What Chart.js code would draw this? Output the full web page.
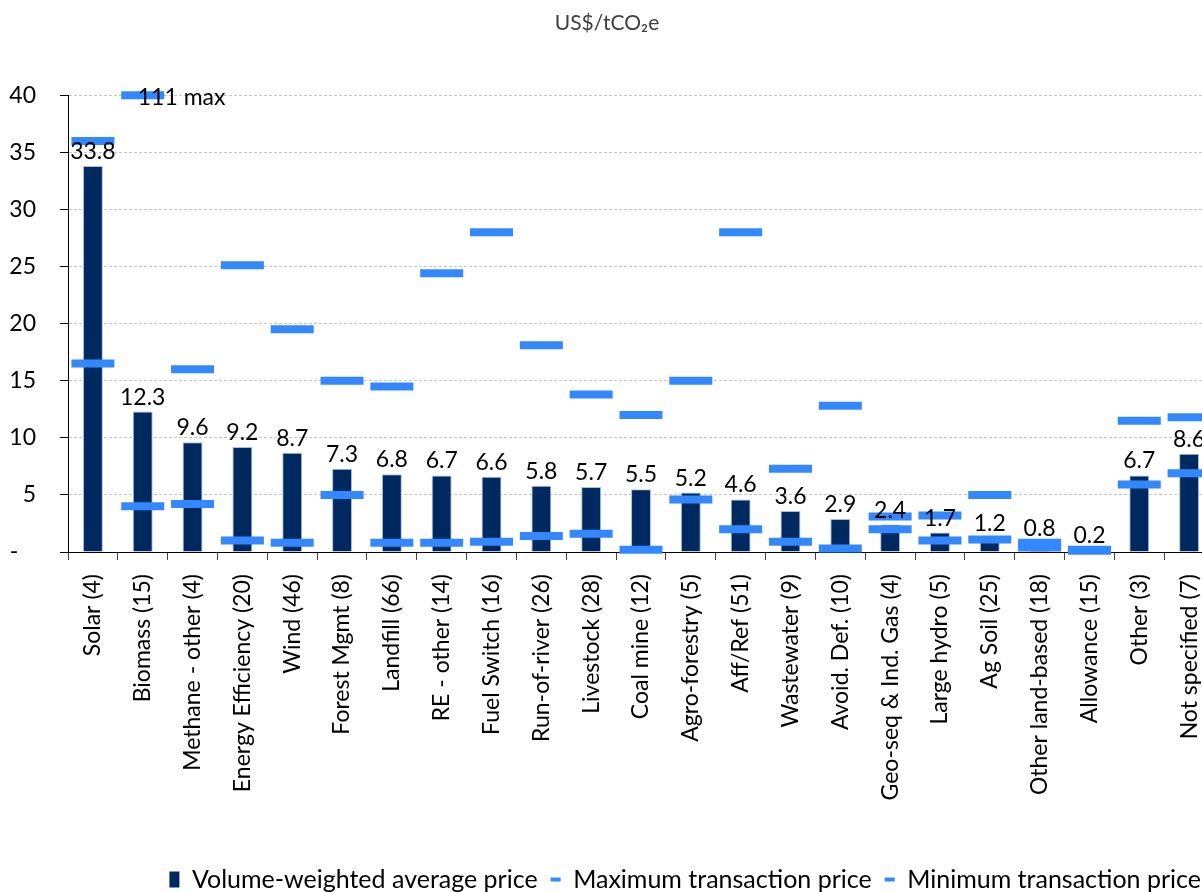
<!DOCTYPE html>
<html>
<head>
<meta charset="utf-8">
<script src="https://cdn.jsdelivr.net/npm/chart.js@4"></script>
<style>
  body { margin: 0; background: #fff; overflow: hidden; }
  #wrap { width: 1214px; height: 892px; position: relative; }
</style>
</head>
<body>
<div id="wrap"><canvas id="price_chart"></canvas></div>
<script>
// categories (number of transactions in brackets)
const categories = [
    'Solar (4)', 'Biomass (15)', 'Methane - other (4)', 'Energy Efficiency (20)', 'Wind (46)',
    'Forest Mgmt (8)', 'Landfill (66)', 'RE - other (14)', 'Fuel Switch (16)', 'Run-of-river (26)',
    'Livestock (28)', 'Coal mine (12)', 'Agro-forestry (5)', 'Aff/Ref (51)', 'Wastewater (9)',
    'Avoid. Def. (10)', 'Geo-seq & Ind. Gas (4)', 'Large hydro (5)', 'Ag Soil (25)',
    'Other land-based (18)', 'Allowance (15)', 'Other (3)', 'Not specified (7)'
]
const avgPrice = [33.8, 12.3, 9.6, 9.2, 8.7, 7.3, 6.8, 6.7, 6.6, 5.8, 5.7, 5.5, 5.2, 4.6, 3.6, 2.9, 2.4, 1.7, 1.2, 0.8, 0.2, 6.7, 8.6]
const maxPrice = [36.0, 111, 16.0, 25.1, 19.5, 15.0, 14.5, 24.4, 28.0, 18.1, 13.8, 12.0, 15.0, 28.0, 7.3, 12.8, 3.1, 3.2, 5.0, 0.8, 0.2, 11.5, 11.8]
const minPrice = [16.5, 4.0, 4.2, 1.0, 0.8, 5.0, 0.8, 0.8, 0.9, 1.4, 1.6, 0.2, 4.6, 2.0, 0.9, 0.3, 2.0, 1.0, 1.1, 0.4, 0.1, 5.9, 6.9]
const yTicks = [0, 5, 10, 15, 20, 25, 30, 35, 40]
const yMax = 40

const navy = '#002a5f'
const blue = '#3388ff'
const bottomPad = -10   // pushes the legend a little lower

Chart.defaults.font.family = 'Lato'
Chart.defaults.color = '#000'

// value labels above the bars, and the note for the clipped maximum
const labelPlugin = {
    id: 'valueLabels',
    afterDatasetsDraw(chart) {
        let ctx = chart.ctx
        ctx.save()
        ctx.font = '23px Lato'
        ctx.fillStyle = '#000'
        ctx.textAlign = 'center'
        ctx.textBaseline = 'alphabetic'
        chart.getDatasetMeta(0).data.forEach(function (bar, i) {
            ctx.fillText(avgPrice[i].toFixed(1), bar.x, bar.y - 7)
        })
        ctx.textAlign = 'left'
        chart.getDatasetMeta(1).data.forEach(function (pt, i) {
            if (maxPrice[i] > yMax) {
                ctx.fillText(maxPrice[i] + ' max', pt.x - 5, pt.y + 10)
            }
        })
        ctx.restore()
    }
}

let ctx = document.getElementById('price_chart')

var price_chart = new Chart(ctx, {
    type: 'bar',
    plugins: [labelPlugin],
    data: {
        labels: categories,
        datasets: [{
            label: 'Volume-weighted average price',
            data: avgPrice,
            backgroundColor: navy,
            borderColor: '#a8bde0',
            borderWidth: 1,
            barPercentage: 0.4,
            categoryPercentage: 1,
            order: 1
        }, {
            type: 'line',
            label: 'Maximum transaction price',
            data: maxPrice.map(v => Math.min(v, yMax)),
            showLine: false,
            borderColor: blue,
            backgroundColor: blue,
            pointStyle: 'line',
            pointRadius: 21.5,
            pointHoverRadius: 21.5,
            pointBorderWidth: 8,
            pointHoverBorderWidth: 8,
            pointBorderColor: blue,
            clip: false,
            order: 0
        }, {
            type: 'line',
            label: 'Minimum transaction price',
            data: minPrice,
            showLine: false,
            borderColor: blue,
            backgroundColor: blue,
            pointStyle: 'line',
            pointRadius: 21.5,
            pointHoverRadius: 21.5,
            pointBorderWidth: 8,
            pointHoverBorderWidth: 8,
            pointBorderColor: blue,
            clip: false,
            order: 0
        }]
    },
    options: {
        responsive: true,
        maintainAspectRatio: false,
        animation: false,
        layout: { padding: { top: 0, left: 0, right: 0, bottom: bottomPad }, autoPadding: false },
        plugins: {
            tooltip: { enabled: false },
            title: {
                display: true,
                text: 'US$/tCO₂e',
                color: '#404040',
                font: { size: 21, weight: 'normal' },
                padding: { top: 11, bottom: 59 }
            },
            legend: {
                position: 'bottom',
                align: 'end',
                labels: {
                    usePointStyle: true,
                    pointStyleWidth: 10,
                    boxHeight: 16,
                    padding: 13,
                    font: { size: 25 },
                    color: '#000',
                    generateLabels: function (chart) {
                        let items = Chart.defaults.plugins.legend.labels.generateLabels(chart)
                        items.sort((a, b) => a.datasetIndex - b.datasetIndex)
                        items.forEach(function (it) {
                            if (it.datasetIndex == 0) {
                                it.pointStyle = 'rect'
                                it.lineWidth = 0
                                it.fillStyle = navy
                            } else {
                                it.pointStyle = 'line'
                                it.lineWidth = 4
                                it.strokeStyle = blue
                            }
                        })
                        return items
                    }
                }
            }
        },
        scales: {
            x: {
                offset: true,
                grid: {
                    offset: true,
                    drawOnChartArea: false,
                    drawTicks: true,
                    tickLength: 8,
                    tickColor: '#444'
                },
                border: { display: true, color: '#000', width: 1 },
                ticks: {
                    autoSkip: false,
                    minRotation: 90,
                    maxRotation: 90,
                    padding: 14,
                    font: { size: 23 },
                    color: '#000'
                },
                afterFit: function (scale) {
                    scale.height = 892 - bottomPad - 552 - scale.chart.legend.height
                    scale.paddingRight = 0
                    scale.paddingLeft = 0
                }
            },
            y: {
                min: 0,
                max: yMax,
                afterBuildTicks: function (scale) {
                    scale.ticks = yTicks.map(v => ({ value: v }))
                },
                grid: {
                    color: '#c4c4c4',
                    tickColor: '#000',
                    tickLength: 8
                },
                border: { display: true, color: '#000', width: 1, dash: [3, 2] },
                ticks: {
                    padding: 24,
                    font: { size: 23 },
                    color: '#000',
                    callback: function (v) {
                        return v == 0 ? '-   ' : v
                    }
                },
                afterFit: function (scale) {
                    scale.width = 68
                }
            }
        }
    }
})
</script>
</body>
</html>
